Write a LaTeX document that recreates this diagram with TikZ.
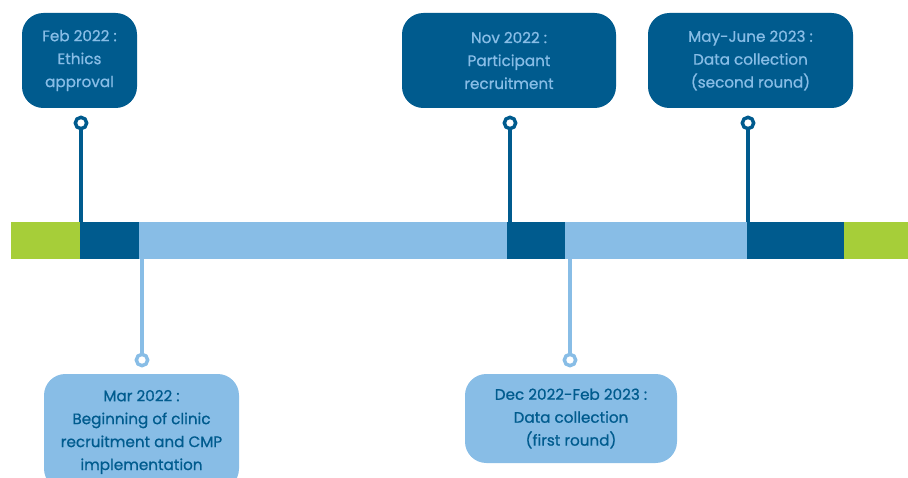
\documentclass[tikz,border=0pt]{standalone}
\usepackage{fontspec}
\setmainfont{Poppins}
\newfontfamily\tlfont{Poppins}[FakeBold=0.8]
\usepackage{tikz}
\usetikzlibrary{positioning}
\definecolor{tlDark}{HTML}{005B8E}
\definecolor{tlLight}{HTML}{88BDE6}
\definecolor{tlGreen}{HTML}{A6CE39}
\tikzset{
  topbox/.style={rectangle, rounded corners=16pt, fill=tlDark, text=tlLight,
                 align=center, font=\tlfont\fontsize{11.4}{17.2}\selectfont,
                 minimum height=71.25pt, inner sep=2pt},
  botbox/.style={rectangle, rounded corners=16pt, fill=tlLight, text=tlDark,
                 align=center, font=\tlfont\fontsize{11.4}{17.2}\selectfont,
                 inner sep=2pt},
  seg/.style={rectangle, minimum height=27.75pt, inner sep=0pt, outer sep=0pt},
  pin/.style={circle, draw=#1, fill=white, line width=2.6pt,
              minimum size=8.5pt, inner sep=0pt},
  stem/.style={line width=2.6pt},
}
\begin{document}
\begin{tikzpicture}[x=0.75pt, y=-0.75pt]
  \clip (0,0) rectangle (908,478);

  % Timeline bar
  \node[seg, fill=tlGreen, minimum width=51.75pt] (g1) at (45.5,240.5) {};
  \node[seg, fill=tlDark, minimum width=44.25pt] (d1) at (109.5,240.5) {};
  \node[seg, fill=tlLight, minimum width=276pt] (l1) at (323,240.5) {};
  \node[seg, fill=tlDark, minimum width=43.5pt] (d2) at (536,240.5) {};
  \node[seg, fill=tlLight, minimum width=136.5pt] (l2) at (656,240.5) {};
  \node[seg, fill=tlDark, minimum width=72.75pt] (d3) at (795.5,240.5) {};
  \node[seg, fill=tlGreen, minimum width=48pt] (g2) at (876,240.5) {};

  % Milestones above the bar
  \node[topbox, minimum width=86.25pt] (feb) at (79.5,60.5) {Feb 2022 :\\Ethics\\approval};
  \node[topbox, minimum width=160.5pt] (nov) at (509,60.5) {Nov 2022 :\\Participant\\recruitment};
  \node[topbox, minimum width=153.75pt] (may) at (750.5,60.5) {May-June 2023 :\\Data collection\\(second round)};

  \node[pin=tlDark] (p1) at (81,123) {};
  \node[pin=tlDark] (p2) at (510,123) {};
  \node[pin=tlDark] (p3) at (748,123) {};

  \draw[stem, tlDark] (p1) -- (p1 |- d1.north);
  \draw[stem, tlDark] (p2) -- (p2 |- d2.north);
  \draw[stem, tlDark] (p3) -- (p3 |- d3.north);

  % Milestones below the bar
  \node[botbox, minimum width=146.25pt, minimum height=87pt] (mar) at (141.5,432)
    {Mar 2022 :\\Beginning of clinic\\recruitment and CMP\\implementation};
  \node[botbox, minimum width=159pt, minimum height=66.75pt] (dec) at (571,418.5)
    {Dec 2022-Feb 2023 :\\Data collection\\(first round)};

  \node[pin=tlLight] (q1) at (142,360) {};
  \node[pin=tlLight] (q2) at (570,360) {};

  \draw[stem, tlLight] (q1) -- (q1 |- l1.south);
  \draw[stem, tlLight] (q2) -- (q2 |- l2.south);

\end{tikzpicture}
\end{document}
